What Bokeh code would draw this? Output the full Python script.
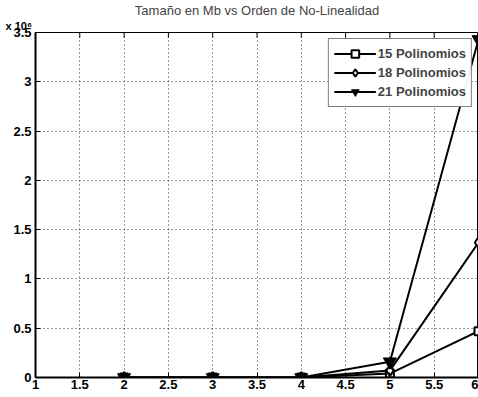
from bokeh.plotting import figure
from bokeh.models import Range1d, Title, Legend, LegendItem, FixedTicker
from bokeh.embed import file_html
from bokeh.resources import INLINE

# Data (y in units of 10^6)
orden = [2, 3, 4, 5, 6]
pol15 = [0.0, 0.0, 0.0, 0.04, 0.47]
pol18 = [0.0, 0.0, 0.0, 0.07, 1.37]
pol21 = [0.0, 0.0, 0.0, 0.16, 3.43]
x_ticks = [1, 1.5, 2, 2.5, 3, 3.5, 4, 4.5, 5, 5.5, 6]
y_ticks = [0, 0.5, 1, 1.5, 2, 2.5, 3, 3.5]
titulo = "Tamaño en Mb vs Orden de No-Linealidad"
escala = "x 10⁶"
FONT = "Liberation Sans"

y_top = y_ticks[-1]
p = figure(width=478, height=397, output_backend="svg", toolbar_location=None,
           x_range=Range1d(x_ticks[0], x_ticks[-1]), y_range=Range1d(0, y_top),
           title=titulo,
           min_border_left=35, min_border_right=0, min_border_top=29, min_border_bottom=20)
p.title.align = "center"
p.title.text_font = FONT
p.title.text_font_size = "13px"
p.title.text_font_style = "normal"
p.title.offset = 0
p.title.standoff = 0
p.background_fill_color = "white"
p.border_fill_color = "white"
p.outline_line_color = "black"
p.outline_line_width = 1

for ax in (p.xaxis[0], p.yaxis[0]):
    ax.axis_line_width = 2
    ax.major_tick_in = 5
    ax.major_tick_out = 0
    ax.minor_tick_line_color = None
    ax.major_label_text_font = FONT
    ax.major_label_text_font_size = "13px"
    ax.major_label_text_font_style = "bold"
    ax.major_label_text_color = "black"
p.xaxis[0].ticker = FixedTicker(ticks=x_ticks)
p.yaxis[0].ticker = FixedTicker(ticks=y_ticks)
p.xaxis[0].major_label_standoff = 2
p.yaxis[0].major_label_standoff = 4

sub = Title(text=escala, align="left", offset=-30, standoff=1,
            text_font=FONT, text_font_size="11px", text_font_style="bold",
            text_color="black")
p.add_layout(sub, "above")

p.xgrid.ticker = FixedTicker(ticks=x_ticks)
p.ygrid.ticker = FixedTicker(ticks=y_ticks)
for g in (p.xgrid[0], p.ygrid[0]):
    g.grid_line_color = "black"
    g.grid_line_dash = "1 3"
    g.grid_line_width = 1
    g.grid_line_alpha = 0.8

# inward tick marks along the top edge, at the x tick positions
tick_len = y_top * 0.015
p.segment(x0=x_ticks, y0=[y_top] * len(x_ticks), x1=x_ticks,
          y1=[y_top - tick_len] * len(x_ticks), line_color="black", line_width=1)

l15 = p.line(orden, pol15, color="black", line_width=2)
m15 = p.scatter(orden, pol15, marker="square", size=8, line_color="black",
                fill_color="white", line_width=2)
l18 = p.line(orden, pol18, color="black", line_width=2)
m18 = p.scatter(orden, pol18, marker="diamond", size=11, line_color="black",
                fill_color="white", line_width=2)
l21 = p.line(orden, pol21, color="black", line_width=2)
m21 = p.scatter(orden, pol21, marker="inverted_triangle", size=13, line_color="black",
                fill_color="black", line_width=1)

legend = Legend(items=[LegendItem(label="15 Polinomios", renderers=[l15, m15]),
                       LegendItem(label="18 Polinomios", renderers=[l18, m18]),
                       LegendItem(label="21 Polinomios", renderers=[l21, m21])],
                location="top_right")
legend.label_text_font = FONT
legend.label_text_font_size = "13px"
legend.label_text_font_style = "bold"
legend.border_line_color = "black"
legend.border_line_width = 1.5
legend.glyph_width = 42
legend.label_height = 19
legend.glyph_height = 19
legend.spacing = 0
legend.padding = 5
legend.margin = 6
legend.label_standoff = 2
p.add_layout(legend)

open("out.html", "w").write(file_html(p, INLINE))
